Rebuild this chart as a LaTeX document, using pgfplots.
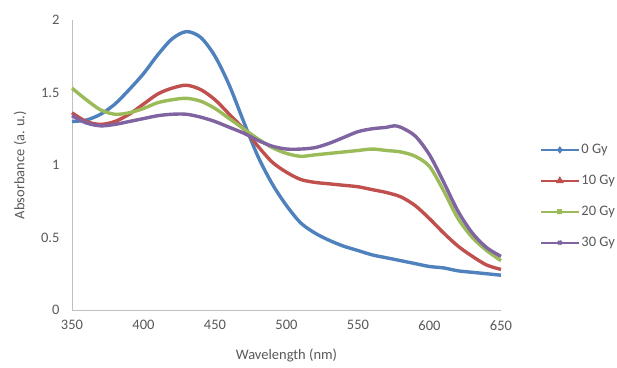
\documentclass[border=0pt]{standalone}
\usepackage{pgfplots}
\pgfplotsset{compat=1.18}
\usepackage{fontspec}
\setmainfont{Carlito}
\definecolor{xblue}{HTML}{4F81BD}
\definecolor{xred}{HTML}{C0504D}
\definecolor{xgreen}{HTML}{9BBB59}
\definecolor{xpurple}{HTML}{8064A2}
\definecolor{txt}{HTML}{595959}
\definecolor{axl}{HTML}{BFBFBF}
\begin{document}
\begin{tikzpicture}[x=1pt,y=1pt]
\begin{axis}[
  at={(0pt,0pt)}, anchor=south west,
  scale only axis, width=429pt, height=290pt,
  xmin=350, xmax=650, ymin=0, ymax=2,
  xtick={350,400,...,650}, ytick={0,0.5,1,1.5,2},
  yticklabels={0,0.5,1,1.5,2},
  axis x line*=bottom, axis y line*=left,
  axis line style={axl, line width=0.8pt},
  every outer x axis line/.append style={-},
  every outer y axis line/.append style={-},
  major tick length=0pt,
  tick label style={font=\fontsize{14.5}{16}\selectfont, text=txt},
  /pgf/number format/assume math mode=true,
  xticklabel style={yshift=-7pt},
  yticklabel style={xshift=-9pt},
  xlabel={Wavelength (nm)}, ylabel={Absorbance (a. u.)},
  label style={font=\fontsize{14.5}{16}\selectfont, text=txt},
  xlabel style={at={(rel axis cs:0.5,0)}, anchor=center, yshift=-45pt},
  ylabel style={at={(rel axis cs:0,0.5)}, anchor=center, xshift=0pt, yshift=52pt},
  legend style={draw=none, fill=none, at={(rel axis cs:1.091,0.392)}, anchor=west,
    font=\fontsize{14.5}{16}\selectfont, text=txt, row sep=16pt, inner sep=0pt,
    /tikz/every even column/.append style={column sep=2pt}},
  legend cell align=left,
  legend image code/.code={\draw[mark repeat=2,mark phase=2,#1] plot coordinates {(0pt,0pt) (18.5pt,0pt) (37pt,0pt)};},
  every axis plot/.append style={line width=3.4pt, smooth, no markers},
  clip=false,
]
\addplot[xblue, legend image post style={line width=2.2pt, mark=diamond*, mark size=2pt}] coordinates {
(350,1.30) (360,1.31) (370,1.35) (380,1.42) (390,1.52) (400,1.63) (410,1.76) (420,1.87) (430,1.92) (440,1.88) (450,1.75) (460,1.55) (470,1.30) (480,1.06) (490,0.87) (500,0.72) (510,0.60) (520,0.53) (530,0.48) (540,0.44) (550,0.41) (560,0.38) (570,0.36) (580,0.34) (590,0.32) (600,0.30) (610,0.29) (620,0.27) (630,0.26) (640,0.25) (650,0.24)};
\addlegendentry{0 Gy}
\addplot[xred, legend image post style={line width=2.2pt, mark=triangle*, mark size=2.5pt}] coordinates {
(350,1.36) (360,1.30) (370,1.28) (380,1.30) (390,1.35) (400,1.42) (410,1.49) (420,1.53) (430,1.55) (440,1.52) (450,1.45) (460,1.35) (470,1.25) (480,1.13) (490,1.02) (500,0.95) (510,0.90) (520,0.88) (530,0.87) (540,0.86) (550,0.85) (560,0.83) (570,0.81) (580,0.78) (590,0.72) (600,0.63) (610,0.53) (620,0.44) (630,0.37) (640,0.31) (650,0.28)};
\addlegendentry{10 Gy}
\addplot[xgreen, legend image post style={line width=2.2pt, mark=square*, mark size=1.5pt}] coordinates {
(350,1.53) (360,1.45) (370,1.38) (380,1.35) (390,1.36) (400,1.39) (410,1.43) (420,1.45) (430,1.46) (440,1.44) (450,1.39) (460,1.32) (470,1.25) (480,1.18) (490,1.12) (500,1.08) (510,1.06) (520,1.07) (530,1.08) (540,1.09) (550,1.10) (560,1.11) (570,1.10) (580,1.09) (590,1.06) (600,0.99) (610,0.82) (620,0.63) (630,0.50) (640,0.41) (650,0.34)};
\addlegendentry{20 Gy}
\addplot[xpurple, legend image post style={line width=2.2pt, mark=x, mark size=2.5pt}] coordinates {
(350,1.34) (360,1.29) (370,1.27) (380,1.28) (390,1.30) (400,1.32) (410,1.34) (420,1.35) (430,1.35) (440,1.33) (450,1.30) (460,1.26) (470,1.22) (480,1.17) (490,1.13) (500,1.11) (510,1.11) (520,1.12) (530,1.15) (540,1.19) (550,1.23) (560,1.25) (570,1.26) (575,1.27) (580,1.26) (590,1.20) (600,1.07) (610,0.88) (620,0.68) (630,0.53) (640,0.43) (650,0.37)};
\addlegendentry{30 Gy}
\end{axis}
\pgfresetboundingbox
\path[use as bounding box] (-72pt,-57pt) rectangle (545pt,310pt);
\end{tikzpicture}
\end{document}
